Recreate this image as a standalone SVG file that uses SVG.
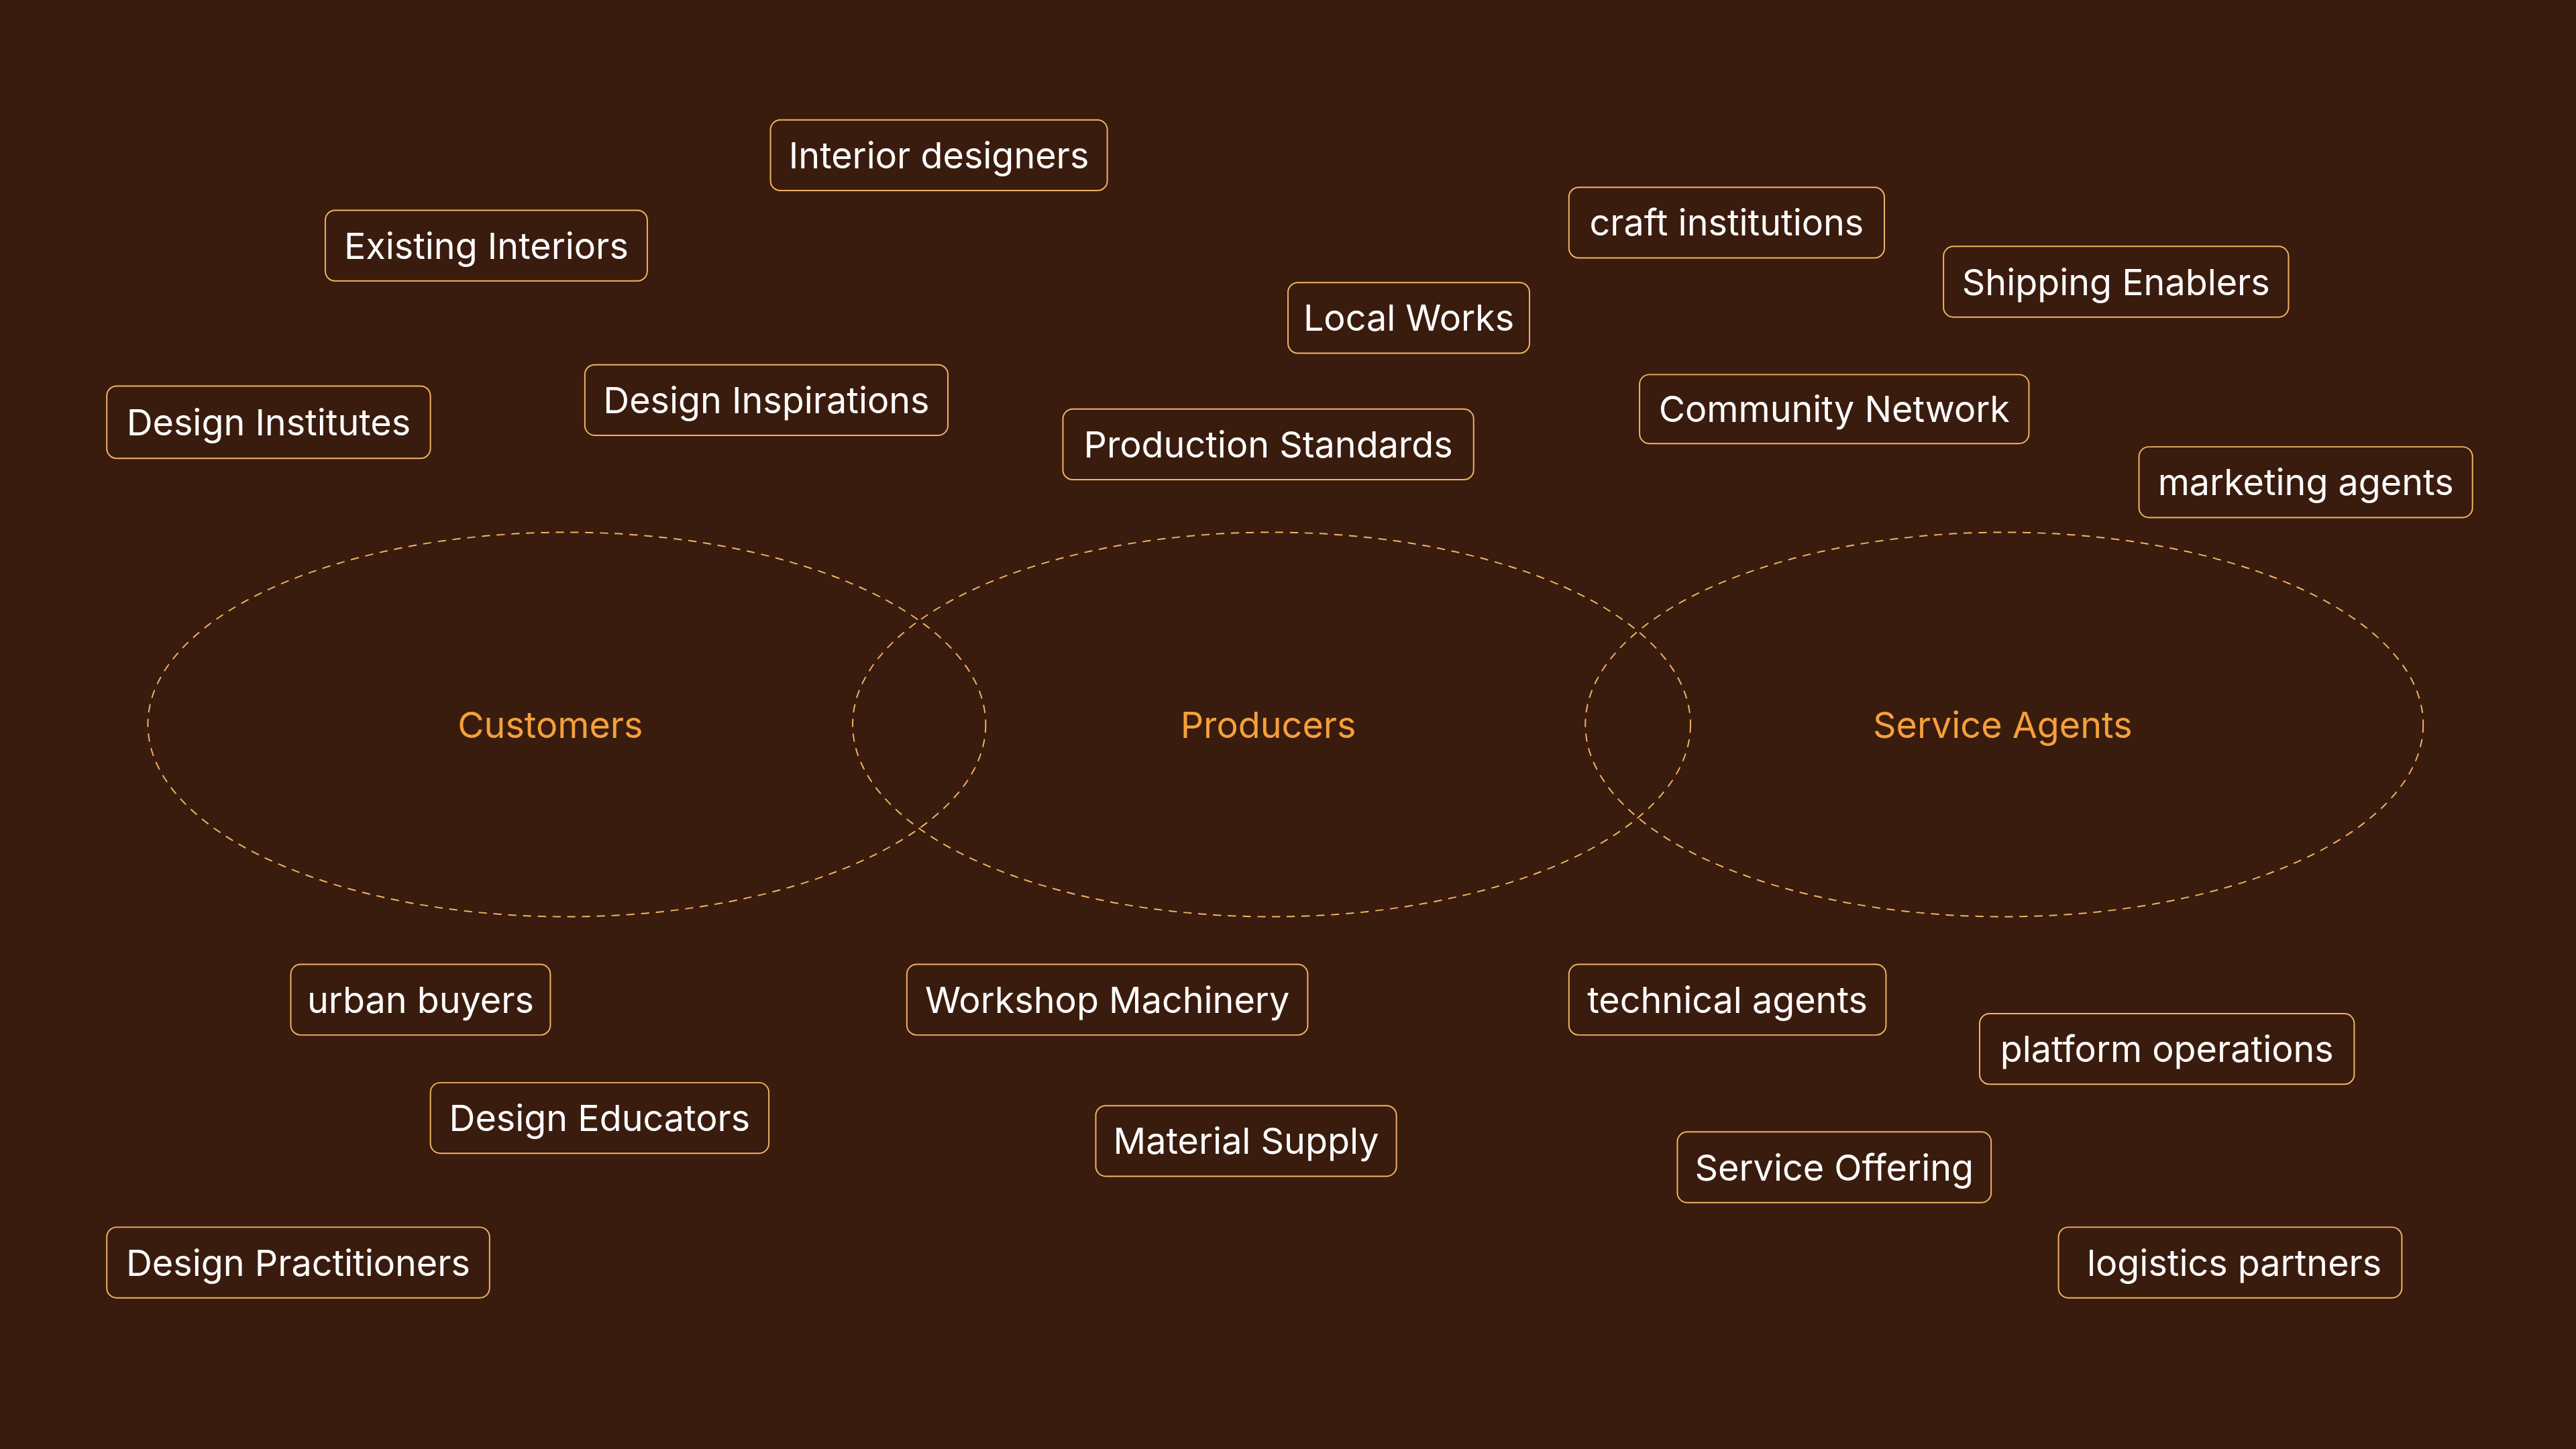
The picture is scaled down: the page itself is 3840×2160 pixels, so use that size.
<svg xmlns="http://www.w3.org/2000/svg" width="3840" height="2160" viewBox="0 0 3840 2160">
<style>
.b{fill:#3a1c0e;stroke:#f2b466;stroke-width:0.8}
.t{font-family:Inter,"Noto Sans",sans-serif;font-size:22px;fill:#ffffff;text-anchor:middle;dominant-baseline:central}
.e{fill:none;stroke:#f2b466;stroke-width:0.8;stroke-dasharray:5 4}
.l{font-family:Inter,"Noto Sans",sans-serif;font-size:22px;fill:#f5a03c;text-anchor:middle;dominant-baseline:central}
</style>
<rect width="3840" height="2160" fill="#3a1c0e"/>
<g transform="scale(2.44898)">
<g id="connectors"></g>
<g id="sets">
<ellipse class="e" cx="345" cy="441" rx="255" ry="117"/>
<ellipse class="e" cx="774" cy="441" rx="255" ry="117"/>
<ellipse class="e" cx="1220" cy="441" rx="255" ry="117"/>
<text class="l" x="335" y="441">Customers</text>
<text class="l" x="772" y="441">Producers</text>
<text class="l" x="1219" y="441">Service Agents</text>
</g>
<g id="n1"><rect class="b" x="469" y="73" width="205" height="43" rx="6"/><text class="t" x="571.5" y="94.5">Interior designers</text></g>
<g id="n2"><rect class="b" x="198" y="128" width="196" height="43" rx="6"/><text class="t" x="296" y="149.5">Existing Interiors</text></g>
<g id="n3"><rect class="b" x="955" y="114" width="192" height="43" rx="6"/><text class="t" x="1051" y="135.5">craft institutions</text></g>
<g id="n4"><rect class="b" x="1183" y="150" width="210" height="43" rx="6"/><text class="t" x="1288" y="171.5">Shipping Enablers</text></g>
<g id="n5"><rect class="b" x="784" y="172" width="147" height="43" rx="6"/><text class="t" x="857.5" y="193.5">Local Works</text></g>
<g id="n6"><rect class="b" x="65" y="235" width="197" height="44" rx="6"/><text class="t" x="163.5" y="257">Design Institutes</text></g>
<g id="n7"><rect class="b" x="356" y="222" width="221" height="43" rx="6"/><text class="t" x="466.5" y="243.5">Design Inspirations</text></g>
<g id="n8"><rect class="b" x="647" y="249" width="250" height="43" rx="6"/><text class="t" x="772" y="270.5">Production Standards</text></g>
<g id="n9"><rect class="b" x="998" y="228" width="237" height="42" rx="6"/><text class="t" x="1116.5" y="249">Community Network</text></g>
<g id="n10"><rect class="b" x="1302" y="272" width="203" height="43" rx="6"/><text class="t" x="1403.5" y="293.5">marketing agents</text></g>
<g id="n11"><rect class="b" x="177" y="587" width="158" height="43" rx="6"/><text class="t" x="256" y="608.5">urban buyers</text></g>
<g id="n12"><rect class="b" x="552" y="587" width="244" height="43" rx="6"/><text class="t" x="674" y="608.5">Workshop Machinery</text></g>
<g id="n13"><rect class="b" x="955" y="587" width="193" height="43" rx="6"/><text class="t" x="1051.5" y="608.5">technical agents</text></g>
<g id="n14"><rect class="b" x="1205" y="617" width="228" height="43" rx="6"/><text class="t" x="1319" y="638.5">platform operations</text></g>
<g id="n15"><rect class="b" x="262" y="659" width="206" height="43" rx="6"/><text class="t" x="365" y="680.5">Design Educators</text></g>
<g id="n16"><rect class="b" x="667" y="673" width="183" height="43" rx="6"/><text class="t" x="758.5" y="694.5">Material Supply</text></g>
<g id="n17"><rect class="b" x="1021" y="689" width="191" height="43" rx="6"/><text class="t" x="1116.5" y="710.5">Service Offering</text></g>
<g id="n18"><rect class="b" x="65" y="747" width="233" height="43" rx="6"/><text class="t" x="181.5" y="768.5">Design Practitioners</text></g>
<g id="n19"><rect class="b" x="1253" y="747" width="209" height="43" rx="6"/><text class="t" x="1360" y="768.5">logistics partners</text></g>
</g>
</svg>
